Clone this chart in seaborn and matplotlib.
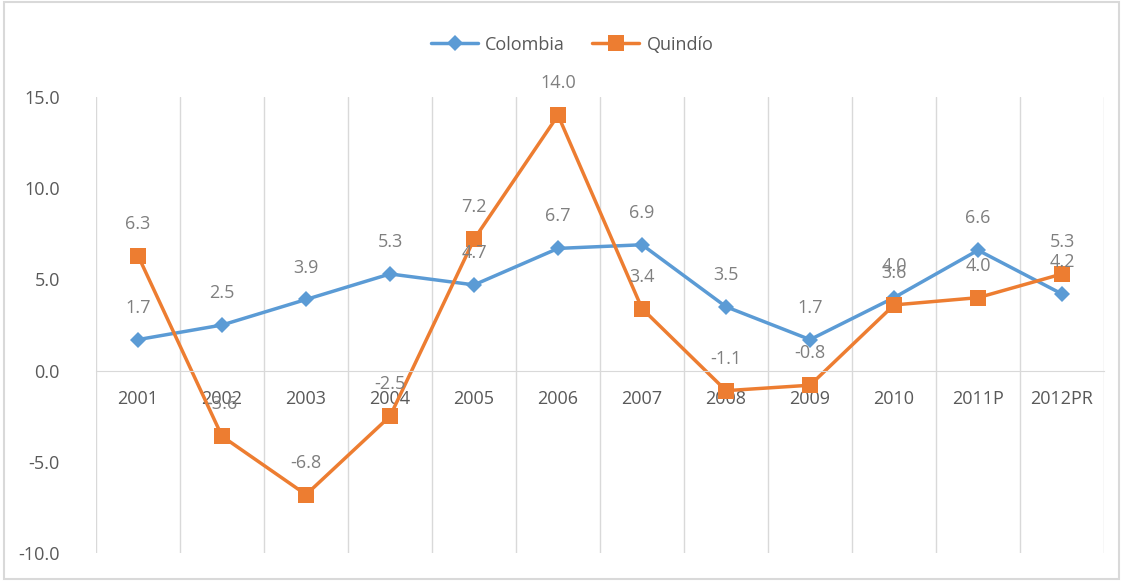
import matplotlib
matplotlib.use('Agg')
import matplotlib.pyplot as plt
import matplotlib.patches as patches
import seaborn as sns
import pandas as pd

years = ["2001", "2002", "2003", "2004", "2005", "2006", "2007",
         "2008", "2009", "2010", "2011P", "2012PR"]
colombia = [1.7, 2.5, 3.9, 5.3, 4.7, 6.7, 6.9, 3.5, 1.7, 4.0, 6.6, 4.2]
quindio = [6.3, -3.6, -6.8, -2.5, 7.2, 14.0, 3.4, -1.1, -0.8, 3.6, 4.0, 5.3]

series_names = ["Colombia", "Quindío"]
colors = {"Colombia": "#5B9BD5", "Quindío": "#ED7D31"}
markers = {"Colombia": "D", "Quindío": "s"}
marker_sizes = {"Colombia": 8, "Quindío": 12}

df = pd.DataFrame({
    "pos": list(range(len(years))) * 2,
    "value": colombia + quindio,
    "serie": ["Colombia"] * len(years) + ["Quindío"] * len(years),
})

sns.set_style("white")
plt.rcParams['font.family'] = ['Open Sans', 'DejaVu Sans']

fig = plt.figure(figsize=(11.22, 5.81), dpi=100)
ax = fig.add_axes([0.0856, 0.0482, 0.984 - 0.0856, 0.833 - 0.0482])

for name in series_names:
    sub = df[df["serie"] == name]
    sns.lineplot(data=sub, x="pos", y="value", ax=ax, color=colors[name],
                 marker=markers[name], markersize=marker_sizes[name],
                 markeredgewidth=0, linewidth=2.5, label=name)
    for x, y in zip(sub["pos"], sub["value"]):
        ax.annotate(f"{y:.1f}", (x, y), xytext=(0, 23), textcoords="offset points",
                    ha="center", va="center", fontsize=13, color="#7F7F7F")

ax.set_xlim(-0.5, len(years) - 0.5)
ax.set_ylim(-10, 15)
ax.set_yticks([-10, -5, 0, 5, 10, 15])
ax.set_yticklabels([f"{v:.1f}" for v in [-10, -5, 0, 5, 10, 15]])
ax.set_xticks(range(len(years)))
ax.set_xticklabels(years)
ax.set_xticks([i - 0.5 for i in range(len(years) + 1)], minor=True)
ax.grid(True, which="minor", axis="x", color="#D9D9D9", linewidth=1)
ax.grid(False, which="major")
ax.set_xlabel("")
ax.set_ylabel("")

for s in ["top", "right", "left"]:
    ax.spines[s].set_visible(False)
ax.spines["bottom"].set_position(("data", 0))
ax.spines["bottom"].set_color("#D9D9D9")
ax.tick_params(axis="x", which="both", length=0, pad=14, labelsize=13, labelcolor="#595959")
ax.tick_params(axis="y", length=0, pad=26, labelsize=13, labelcolor="#595959")

ax.legend(loc="center", bbox_to_anchor=(0.51, 0.923), bbox_transform=fig.transFigure,
          ncol=2, frameon=False, fontsize=13, labelcolor="#595959",
          handlelength=2.6, columnspacing=1.5, handletextpad=0.4)

fig.patches.append(patches.Rectangle((0.004, 0.003), 0.993, 0.994, transform=fig.transFigure,
                                     fill=False, edgecolor="#D9D9D9", linewidth=1.5))

fig.savefig("out.png", dpi=100)
